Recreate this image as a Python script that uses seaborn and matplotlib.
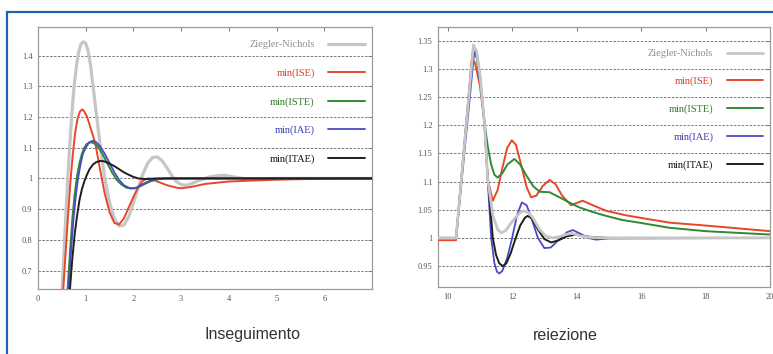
import numpy as np
import pandas as pd
import matplotlib
matplotlib.use("Agg")
import matplotlib.pyplot as plt
from matplotlib.patches import Rectangle
from matplotlib.ticker import FuncFormatter
import seaborn as sns

# ---------------- data: left panel (Inseguimento) ----------------
zn_x = [0.50, 0.55, 0.60, 0.65, 0.70, 0.75, 0.80, 0.85, 0.90, 0.95, 1.00, 1.05, 1.10, 1.20,
        1.30, 1.40, 1.50, 1.60, 1.70, 1.80, 1.90, 2.00, 2.10, 2.20, 2.30, 2.40, 2.50, 2.60,
        2.70, 2.80, 2.90, 3.00, 3.10, 3.20, 3.40, 3.60, 3.80, 3.90, 4.00, 4.20, 4.40, 4.70,
        5.00, 6.00, 7.00]
zn_y = [0.62, 0.78, 0.93, 1.07, 1.19, 1.29, 1.36, 1.41, 1.437, 1.445, 1.44, 1.415, 1.37, 1.24,
        1.11, 1.00, 0.92, 0.87, 0.845, 0.848, 0.875, 0.92, 0.97, 1.015, 1.05, 1.068, 1.07, 1.058,
        1.035, 1.01, 0.99, 0.98, 0.978, 0.982, 0.995, 1.005, 1.01, 1.01, 1.008, 1.002, 0.998, 0.999,
        1.0, 1.0, 1.0]

ise_x = [0.53, 0.58, 0.63, 0.68, 0.73, 0.78, 0.83, 0.88, 0.93, 0.98, 1.03, 1.10, 1.20, 1.30,
         1.40, 1.50, 1.60, 1.70, 1.80, 1.90, 2.00, 2.10, 2.20, 2.30, 2.40, 2.50, 2.70, 2.90,
         3.00, 3.20, 3.50, 4.00, 4.50, 5.00, 6.00, 7.00]
ise_y = [0.64, 0.76, 0.88, 0.99, 1.08, 1.15, 1.195, 1.218, 1.225, 1.215, 1.20, 1.165, 1.115, 1.03,
         0.95, 0.89, 0.855, 0.85, 0.87, 0.905, 0.94, 0.972, 0.993, 1.0, 0.997, 0.99, 0.978, 0.97,
         0.968, 0.972, 0.982, 0.99, 0.993, 0.996, 0.999, 1.0]

iste_x = [0.62, 0.67, 0.72, 0.77, 0.82, 0.87, 0.92, 0.97, 1.02, 1.10, 1.17, 1.25, 1.35, 1.45,
          1.55, 1.65, 1.75, 1.85, 1.95, 2.05, 2.15, 2.25, 2.35, 2.50, 2.70, 3.00, 7.00]
iste_y = [0.64, 0.76, 0.87, 0.95, 1.01, 1.05, 1.08, 1.10, 1.112, 1.118, 1.115, 1.105, 1.08, 1.05,
          1.02, 0.995, 0.98, 0.97, 0.967, 0.968, 0.975, 0.983, 0.99, 0.997, 1.0, 1.0, 1.0]

iae_x = [0.64, 0.69, 0.74, 0.79, 0.84, 0.89, 0.94, 1.00, 1.07, 1.15, 1.22, 1.30, 1.40, 1.50,
         1.60, 1.70, 1.80, 1.90, 2.00, 2.10, 2.20, 2.35, 2.50, 2.70, 7.00]
iae_y = [0.64, 0.76, 0.86, 0.94, 1.0, 1.045, 1.08, 1.10, 1.117, 1.123, 1.118, 1.105, 1.08, 1.05,
         1.02, 0.995, 0.978, 0.97, 0.968, 0.972, 0.982, 0.993, 0.999, 1.0, 1.0]

itae_x = [0.67, 0.72, 0.77, 0.82, 0.87, 0.92, 0.97, 1.02, 1.08, 1.15, 1.22, 1.30, 1.38, 1.50,
          1.60, 1.70, 1.80, 1.90, 2.00, 2.10, 2.25, 2.50, 7.00]
itae_y = [0.64, 0.74, 0.82, 0.88, 0.93, 0.965, 0.99, 1.01, 1.03, 1.045, 1.053, 1.057, 1.056, 1.048,
          1.04, 1.03, 1.02, 1.012, 1.005, 1.0, 0.998, 1.0, 1.0]

# ---------------- data: right panel (reiezione) ----------------
r_zn_x = [9.70, 10.26, 10.80, 10.90, 11.00, 11.14, 11.24, 11.40, 11.55, 11.66, 11.80, 11.95, 12.10,
          12.25, 12.36, 12.50, 12.65, 12.85, 13.05, 13.25, 13.45, 13.65, 13.85, 14.10, 14.40, 15.0, 20.0]
r_zn_y = [1.0, 1.0, 1.342, 1.33, 1.29, 1.205, 1.105, 1.04, 1.015, 1.009, 1.013, 1.025, 1.036,
          1.045, 1.048, 1.045, 1.035, 1.015, 1.003, 1.0, 1.002, 1.006, 1.008, 1.004, 1.001, 1.0, 1.0]

r_ise_x = [9.70, 10.26, 10.75, 10.85, 11.00, 11.14, 11.24, 11.40, 11.55, 11.70, 11.85, 11.99, 12.12,
           12.30, 12.45, 12.59, 12.75, 12.95, 13.16, 13.35, 13.55, 13.83, 14.00, 14.19, 14.50, 14.92,
           15.54, 16.26, 16.90, 18.0, 19.0, 20.0]
r_ise_y = [0.996, 0.996, 1.318, 1.31, 1.27, 1.205, 1.105, 1.066, 1.085, 1.125, 1.16, 1.173, 1.165,
           1.125, 1.09, 1.072, 1.075, 1.092, 1.103, 1.095, 1.075, 1.058, 1.062, 1.066, 1.058, 1.048,
           1.040, 1.033, 1.027, 1.022, 1.017, 1.012]

r_iste_x = [9.70, 10.26, 10.78, 10.90, 11.00, 11.14, 11.25, 11.35, 11.45, 11.55, 11.70, 11.85, 12.07,
            12.25, 12.45, 12.65, 12.85, 13.16, 13.47, 13.80, 14.09, 14.50, 14.92, 15.40, 15.95, 16.88,
            18.0, 19.0, 20.0]
r_iste_y = [1.0, 1.0, 1.33, 1.32, 1.28, 1.205, 1.16, 1.13, 1.112, 1.107, 1.115, 1.13, 1.14,
            1.13, 1.11, 1.092, 1.082, 1.081, 1.072, 1.062, 1.054, 1.046, 1.039, 1.032, 1.027, 1.018,
            1.012, 1.009, 1.006]

r_iae_x = [9.70, 10.26, 10.83, 10.92, 11.00, 11.14, 11.24, 11.35, 11.45, 11.53, 11.61, 11.70, 11.85,
           12.00, 12.15, 12.30, 12.45, 12.60, 12.80, 13.00, 13.20, 13.45, 13.70, 13.88, 14.10, 14.35,
           14.60, 15.00, 20.0]
r_iae_y = [1.0, 1.0, 1.333, 1.32, 1.28, 1.205, 1.105, 1.0, 0.955, 0.94, 0.937, 0.942, 0.965,
           1.0, 1.04, 1.063, 1.058, 1.035, 1.0, 0.982, 0.983, 0.997, 1.01, 1.014, 1.008, 1.0,
           0.997, 0.999, 1.0]

r_itae_x = [9.70, 10.26, 10.80, 10.90, 11.00, 11.14, 11.24, 11.40, 11.50, 11.60, 11.71, 11.82, 11.95,
            12.10, 12.25, 12.40, 12.48, 12.60, 12.80, 13.00, 13.21, 13.45, 13.70, 14.00, 14.40, 15.0, 20.0]
r_itae_y = [1.0, 1.0, 1.34, 1.33, 1.29, 1.205, 1.11, 1.0, 0.97, 0.955, 0.95, 0.955, 0.972,
            0.998, 1.022, 1.036, 1.039, 1.035, 1.015, 0.998, 0.992, 0.996, 1.003, 1.006, 1.002, 1.0, 1.0]

series_names = ["Ziegler-Nichols", "min(ISE)", "min(ISTE)", "min(IAE)", "min(ITAE)"]
left_data = [(zn_x, zn_y), (ise_x, ise_y), (iste_x, iste_y), (iae_x, iae_y), (itae_x, itae_y)]
right_data = [(r_zn_x, r_zn_y), (r_ise_x, r_ise_y), (r_iste_x, r_iste_y), (r_iae_x, r_iae_y),
              (r_itae_x, r_itae_y)]

left_xticks = [0, 1, 2, 3, 4, 5, 6]
left_yticks = [0.7, 0.8, 0.9, 1.0, 1.1, 1.2, 1.3, 1.4]
right_xticks = [10, 12, 14, 16, 18, 20]
right_yticks = [0.95, 1.0, 1.05, 1.1, 1.15, 1.2, 1.25, 1.3, 1.35]
panel_titles = ["Inseguimento", "reiezione"]

# ---------------- styling ----------------
sns.set_style("white")
plt.rcParams["font.family"] = ["Liberation Serif", "DejaVu Serif"]

colors = ["#c6c6c6", "#e6472b", "#2f8a34", "#4a4ac4", "#1e1e1e"]
text_colors = ["#8e8e8e", "#d8401f", "#2f7a2c", "#3c3cae", "#111111"]
widths_left = [2.3, 1.4, 1.4, 1.3, 1.4]
widths_right = [2.0, 1.4, 1.4, 1.3, 1.4]

fig = plt.figure(figsize=(7.73, 3.54), dpi=100)
fig.patch.set_facecolor("white")

axL = fig.add_axes([38 / 773, 1 - 289 / 354, (372 - 38) / 773, (289 - 27) / 354])
axR = fig.add_axes([438 / 773, 1 - 287 / 354, (770 - 438) / 773, (287 - 27) / 354])


def draw(ax, data, zorders, widths):
    handles = []
    for (xs, ys), name, c, w, z in zip(data, series_names, colors, widths, zorders):
        df = pd.DataFrame({"x": xs, "y": ys})
        sns.lineplot(data=df, x="x", y="y", ax=ax, color=c, lw=w, sort=False,
                     estimator=None, zorder=z, label=name, legend=False)
        handles.append(ax.lines[-1])
    return handles


hL = draw(axL, left_data, [2, 3, 4, 5, 6], widths_left)
hR = draw(axR, right_data, [7, 3, 4, 5, 6], widths_right)

fmt = FuncFormatter(lambda v, p: "%g" % round(v, 3))
for ax, xt, yt, xl, yl in [(axL, left_xticks, left_yticks, (0, 7), (0.64, 1.493)),
                           (axR, right_xticks, right_yticks, (9.7, 20.0), (0.913, 1.374))]:
    ax.set_xlim(*xl)
    ax.set_ylim(*yl)
    ax.set_xticks(xt)
    ax.set_yticks(yt)
    ax.yaxis.set_major_formatter(fmt)
    ax.set_xlabel("")
    ax.set_ylabel("")
    ax.tick_params(direction="in", top=True, right=True, length=3, width=0.7,
                   labelsize=6, colors="#777777", labelcolor="#555555", pad=4)
    ax.yaxis.grid(True, linestyle=(0, (2.5, 1.5)), color="#7a7a7a", lw=0.7)
    ax.xaxis.grid(False)
    ax.set_axisbelow(True)
    for s in ax.spines.values():
        s.set_color("#9a9a9a")
        s.set_linewidth(0.9)
    ax.set_facecolor("white")

for ax, hs, anchor, ls in [(axL, hL, (0.978, 0.95), 1.82), (axR, hR, (0.98, 0.915), 1.75)]:
    leg = ax.legend(hs, series_names, loc="upper right", bbox_to_anchor=anchor,
                    frameon=False, markerfirst=False,
                    prop={"family": ["Liberation Serif", "DejaVu Serif"], "size": 7.5},
                    handlelength=3.5, handletextpad=1.3, labelspacing=ls,
                    borderpad=0, borderaxespad=0)
    for t, c in zip(leg.get_texts(), text_colors):
        t.set_color(c)
    leg.set_zorder(10)

fig.text(253 / 773, 1 - 335 / 354, panel_titles[0], ha="center", va="center",
         fontsize=11.5, family=["Liberation Sans", "DejaVu Sans"], color="#333333")
fig.text(565 / 773, 1 - 335 / 354, panel_titles[1], ha="center", va="center",
         fontsize=11.5, family=["Liberation Sans", "DejaVu Sans"], color="#333333")

fig.add_artist(Rectangle((7 / 773, -0.1), 1.2, 1 - 12.5 / 354 + 0.1, transform=fig.transFigure,
                         fill=False, edgecolor="#1f62ad", lw=1.6))

fig.savefig("out.png", dpi=100, facecolor="white")
